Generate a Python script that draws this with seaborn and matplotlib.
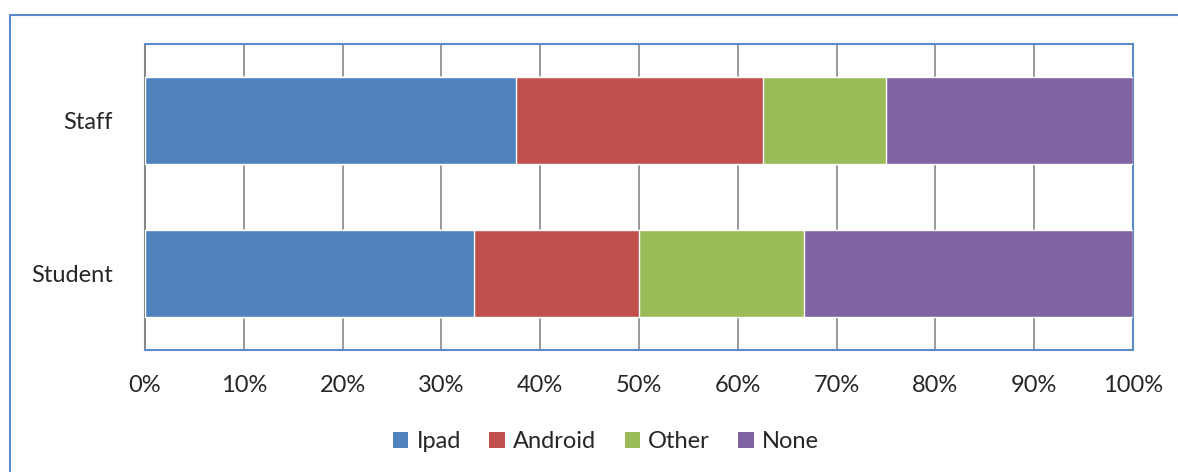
import matplotlib
matplotlib.use("Agg")
import matplotlib.pyplot as plt
import seaborn as sns
import numpy as np
import pandas as pd
from matplotlib.lines import Line2D
from matplotlib.patches import Patch

categories = ["Staff", "Student"]
series = ["Ipad", "Android", "Other", "None"]
ipad = [37.5, 33.3]
android = [25.0, 16.7]
other = [12.5, 16.7]
none = [25.0, 33.3]
xticks = [0, 10, 20, 30, 40, 50, 60, 70, 80, 90, 100]
colors = {"Ipad": "#4F81BD", "Android": "#C0504D", "Other": "#9BBB59", "None": "#8064A2"}

sns.set_style("white")
plt.rcParams["font.family"] = ["Lato", "DejaVu Sans"]
FS = 17

fig = plt.figure(figsize=(11.78, 4.72), dpi=100)
ax = fig.add_axes([145/1178, 1-350/472, (1133-145)/1178, (350-44)/472])

vals = {"Ipad": ipad, "Android": android, "Other": other, "None": none}
cum = np.zeros(len(categories))
cums = {}
for s in series:
    cum = cum + np.array(vals[s])
    cums[s] = cum.copy()

for s in reversed(series):
    df = pd.DataFrame({"cat": categories, "val": cums[s]})
    sns.barplot(data=df, x="val", y="cat", order=categories, color=colors[s],
                saturation=1, width=0.57, ax=ax, orient="h", zorder=3)

ax.set_xlim(0, 100)
ax.set_ylim(1.5, -0.5)
ax.set_xticks(xticks)
ax.set_xticklabels([f"{t}%" for t in xticks], fontsize=FS)
ax.tick_params(axis="y", labelsize=FS, length=0, pad=23)
ax.tick_params(axis="x", length=0, pad=18)
ax.set_xlabel("")
ax.set_ylabel("")
ax.grid(axis="x", color="#878787", linewidth=1.2, zorder=0)
ax.set_axisbelow(True)
for s in ["top", "right", "bottom"]:
    ax.spines[s].set_color("#5B8BC9")
    ax.spines[s].set_linewidth(1.5)
ax.spines["left"].set_color("#878787")
ax.spines["left"].set_linewidth(1.5)

handles = [Patch(facecolor=colors[s], edgecolor="none", label=s) for s in series]
fig.legend(handles=handles, loc="center", bbox_to_anchor=(606/1178, 1-442/472),
           ncol=4, frameon=False, fontsize=FS, handlelength=0.65, handleheight=0.65,
           columnspacing=1.2, handletextpad=0.35)

# outer chart border (partially visible)
fig.add_artist(Line2D([10/1178, 1.0], [1-15/472, 1-15/472], transform=fig.transFigure,
                      color="#5B8BC9", linewidth=1.5))
fig.add_artist(Line2D([10/1178, 10/1178], [1-15/472, 0], transform=fig.transFigure,
                      color="#5B8BC9", linewidth=1.5))

fig.savefig("out.png", dpi=100)
